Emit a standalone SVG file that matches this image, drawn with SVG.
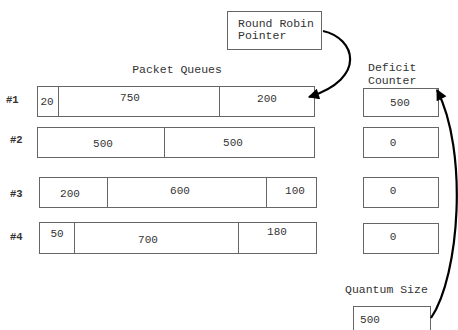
<svg xmlns="http://www.w3.org/2000/svg" width="458" height="330" viewBox="0 0 458 330">
<defs>
<style>
.box{fill:#fff;stroke:#666;stroke-width:1}
.div{stroke:#666;stroke-width:1}
.t{font-family:"Liberation Mono","DejaVu Sans Mono",monospace;font-size:11.5px;fill:#333}
.n{font-family:"Liberation Mono","DejaVu Sans Mono",monospace;font-size:11px;fill:#333;text-anchor:middle}
.lbl{font-family:"Liberation Mono","DejaVu Sans Mono",monospace;font-size:10.5px;font-weight:bold;fill:#333}
.arr{fill:none;stroke:#000;stroke-width:2.2}
</style>
<marker id="ah" viewBox="0 0 10 10" refX="9" refY="5" markerWidth="5.5" markerHeight="5" orient="auto" markerUnits="strokeWidth">
<path d="M0,0 L10,5 L0,10 z" fill="#000"/>
</marker>
</defs>
<rect width="458" height="330" fill="#fff"/>

<g id="rr-pointer">
<rect class="box" x="227.5" y="11.5" width="94" height="38"/>
<text class="t" x="238" y="27">Round Robin</text>
<text class="t" x="238" y="39">Pointer</text>
</g>

<g id="title-queues"><text class="t" x="177" y="73" text-anchor="middle">Packet Queues</text></g>
<g id="title-deficit">
<text class="t" x="368" y="71">Deficit</text>
<text class="t" x="368" y="84">Counter</text>
</g>

<g id="queue1">
<text class="lbl" x="6" y="103">#1</text>
<rect class="box" x="37.5" y="86.5" width="277" height="30"/>
<line class="div" x1="58.5" y1="86.5" x2="58.5" y2="116.5"/>
<line class="div" x1="219.5" y1="86.5" x2="219.5" y2="116.5"/>
<text class="n" x="47" y="105">20</text>
<text class="n" x="130" y="101">750</text>
<text class="n" x="267" y="102">200</text>
</g>

<g id="queue2">
<text class="lbl" x="10" y="143">#2</text>
<rect class="box" x="37.5" y="127.5" width="277" height="30"/>
<line class="div" x1="164.5" y1="127.5" x2="164.5" y2="157.5"/>
<text class="n" x="103" y="147">500</text>
<text class="n" x="233" y="146">500</text>
</g>

<g id="queue3">
<text class="lbl" x="10" y="197">#3</text>
<rect class="box" x="39.5" y="177.5" width="277" height="30"/>
<line class="div" x1="107.5" y1="177.5" x2="107.5" y2="207.5"/>
<line class="div" x1="266.5" y1="177.5" x2="266.5" y2="207.5"/>
<text class="n" x="70" y="197">200</text>
<text class="n" x="180" y="194">600</text>
<text class="n" x="295" y="194">100</text>
</g>

<g id="queue4">
<text class="lbl" x="10" y="240">#4</text>
<rect class="box" x="39.5" y="222.5" width="277" height="31"/>
<line class="div" x1="74.5" y1="222.5" x2="74.5" y2="253.5"/>
<line class="div" x1="238.5" y1="222.5" x2="238.5" y2="253.5"/>
<text class="n" x="57" y="237">50</text>
<text class="n" x="148" y="243">700</text>
<text class="n" x="277" y="235">180</text>
</g>

<g id="deficit1">
<rect class="box" x="363.5" y="88.5" width="75" height="28"/>
<text class="n" x="400" y="106">500</text>
</g>
<g id="deficit2">
<rect class="box" x="363.5" y="127.5" width="75" height="30"/>
<text class="n" x="393" y="146">0</text>
</g>
<g id="deficit3">
<rect class="box" x="363.5" y="177.5" width="75" height="30"/>
<text class="n" x="393" y="194">0</text>
</g>
<g id="deficit4">
<rect class="box" x="363.5" y="223.5" width="75" height="30"/>
<text class="n" x="393" y="240">0</text>
</g>

<g id="quantum">
<text class="t" x="345" y="293">Quantum Size</text>
<rect class="box" x="353.5" y="306.5" width="77" height="30"/>
<text class="n" x="370" y="323">500</text>
</g>

<g id="connectors">
<path class="arr" d="M323,31 C355,38 368,78 309,97" marker-end="url(#ah)"/>
<path class="arr" d="M431,318 C460,275 468,150 437,90" marker-end="url(#ah)"/>
</g>
</svg>
